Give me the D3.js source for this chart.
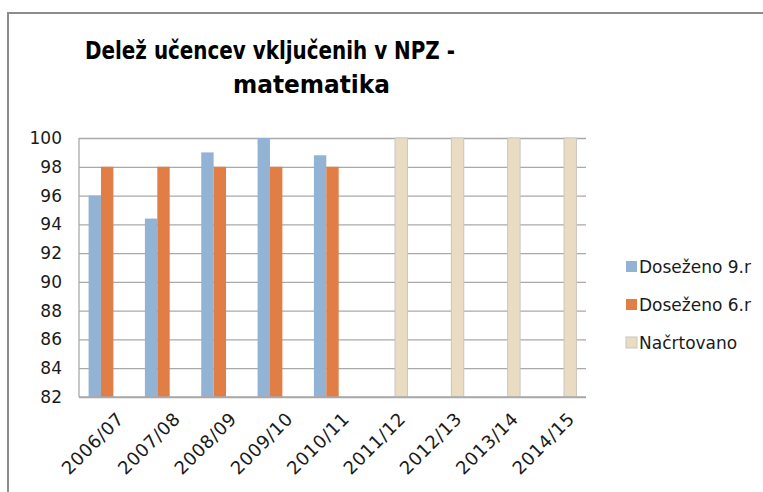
<!DOCTYPE html>
<html>
<head>
<meta charset="utf-8">
<script src="https://cdn.jsdelivr.net/npm/d3@7"></script>
<style>
  body { margin: 0; background: #fff; }
  text { font-family: "Century Gothic", "DejaVu Sans", sans-serif; fill: #1a1a1a; }
</style>
</head>
<body>
<svg id="chart" width="763" height="492"></svg>
<script>
// data
const years = ["2006/07", "2007/08", "2008/09", "2009/10", "2010/11", "2011/12", "2012/13", "2013/14", "2014/15"];
const dosezeno9 = [96, 94.4, 99, 100, 98.8, null, null, null, null];
const dosezeno6 = [98, 98, 98, 98, 98, null, null, null, null];
const nacrtovano = [null, null, null, null, null, 100, 100, 100, 100];
const yTicks = [82, 84, 86, 88, 90, 92, 94, 96, 98, 100];
const seriesNames = ["Doseženo 9.r", "Doseženo 6.r", "Načrtovano"];
const colors = ["#93b3d4", "#e07e46", "#eadcc3"];

const svg = d3.select("#chart"),
      margin = { top: 138, right: 177, bottom: 95, left: 79 },
      width = 763 - margin.left - margin.right,
      height = 492 - margin.top - margin.bottom;

// outer chart border (cut off on the right and bottom)
svg.append("rect")
  .attr("x", 8).attr("y", 13)
  .attr("width", 800).attr("height", 520)
  .attr("fill", "none")
  .attr("stroke", "#8c8c8c")
  .attr("stroke-width", 2);

// title
const title = svg.append("g");
title.append("text")
  .attr("x", 85).attr("y", 59)
  .attr("font-family", "'Liberation Sans Narrow', 'DejaVu Sans Condensed', sans-serif")
  .attr("font-weight", "bold")
  .attr("font-size", 25)
  .attr("textLength", 370)
  .attr("lengthAdjust", "spacingAndGlyphs")
  .style("fill", "#000")
  .text("Delež učencev vključenih v NPZ  -");
title.append("text")
  .attr("x", 233).attr("y", 93)
  .attr("font-family", "'Liberation Sans Narrow', 'DejaVu Sans Condensed', sans-serif")
  .attr("font-weight", "bold")
  .attr("font-size", 25)
  .attr("textLength", 157)
  .attr("lengthAdjust", "spacingAndGlyphs")
  .style("fill", "#000")
  .text("matematika");

const g = svg.append("g")
  .attr("transform", `translate(${margin.left},${margin.top})`);

const x = d3.scaleBand().domain(years).range([0, width]).paddingInner(0).paddingOuter(0);
const y = d3.scaleLinear().domain([82, 100]).range([height, 0]);

// group of 3 slots inside each band
const groupW = x.bandwidth() * 0.66;
const x1 = d3.scaleBand().domain(d3.range(3)).range([(x.bandwidth() - groupW) / 2, (x.bandwidth() + groupW) / 2]);

// gridlines
g.append("g")
  .call(d3.axisLeft(y).tickValues(yTicks).tickSize(-width).tickFormat(""))
  .call(a => a.select(".domain").remove())
  .call(a => a.selectAll("line").attr("stroke", "#a9a9a9").attr("stroke-width", 1.3));

// bars
const series = [dosezeno9, dosezeno6, nacrtovano];
series.forEach((vals, si) => {
  g.append("g")
    .selectAll("rect")
    .data(years.map((yr, i) => ({ yr, v: vals[i] })).filter(d => d.v != null))
    .join("rect")
    .attr("x", d => x(d.yr) + x1(si))
    .attr("y", d => y(d.v))
    .attr("width", x1.bandwidth())
    .attr("height", d => height - y(d.v))
    .attr("fill", colors[si])
    .attr("stroke", si === 2 ? "#c9c6c0" : "none")
    .attr("stroke-width", 1);
});

// axis lines
g.append("line")
  .attr("x1", 0).attr("x2", 0).attr("y1", 0).attr("y2", height)
  .attr("stroke", "#a9a9a9").attr("stroke-width", 1.3);
g.append("line")
  .attr("x1", 0).attr("x2", width).attr("y1", height).attr("y2", height)
  .attr("stroke", "#a9a9a9").attr("stroke-width", 1.3);

// y axis labels
g.append("g")
  .call(d3.axisLeft(y).tickValues(yTicks).tickSize(0).tickPadding(17))
  .call(a => a.select(".domain").remove())
  .call(a => a.selectAll("text").attr("font-size", 17).attr("font-family", null));

// x axis labels, rotated
g.append("g")
  .attr("transform", `translate(0,${height})`)
  .selectAll("text")
  .data(years)
  .join("text")
  .attr("transform", d => `translate(${x(d) + x.bandwidth() / 2 + 9},14) rotate(-45)`)
  .attr("text-anchor", "end")
  .attr("dy", "0.7em")
  .attr("font-size", 18)
  .attr("letter-spacing", 0.6)
  .text(d => d);

// legend
const legend = svg.append("g").attr("transform", "translate(626,267)");
seriesNames.forEach((name, i) => {
  const row = legend.append("g").attr("transform", `translate(0,${i * 38})`);
  row.append("rect")
    .attr("x", 0).attr("y", -6)
    .attr("width", 11).attr("height", 11)
    .attr("fill", colors[i])
    .attr("stroke", i === 2 ? "#c9c6c0" : "none");
  row.append("text")
    .attr("x", 13).attr("y", 0)
    .attr("dy", "0.35em")
    .attr("font-size", 17)
    .text(name);
});
</script>
</body>
</html>
